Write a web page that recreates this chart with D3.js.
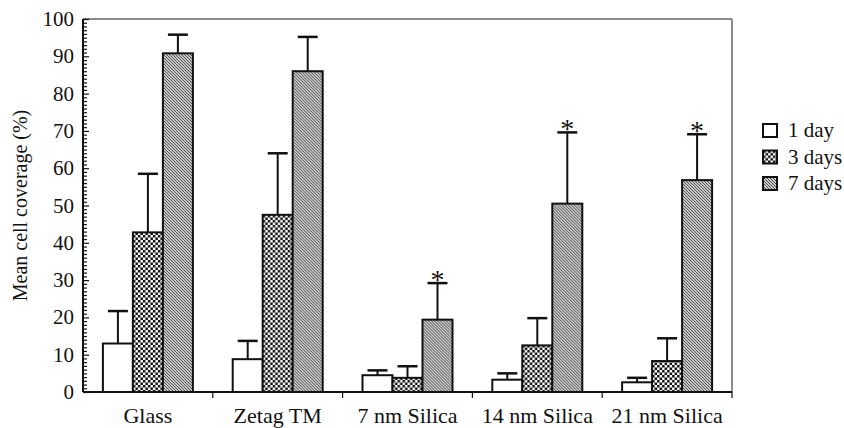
<!DOCTYPE html>
<html>
<head>
  <meta charset="utf-8">
  <title>Mean cell coverage</title>
  <style>
    body { margin: 0; background: #fff; }
    svg text { font-family: "Liberation Serif", Tinos, "Times New Roman", Times, "DejaVu Serif", serif; }
  </style>
</head>
<body>
  <script src="https://d3js.org/d3.v7.min.js"></script>
  <svg width="844" height="428"></svg>
  <script>
    // data
    var categories = ["Glass", "Zetag TM", "7 nm Silica", "14 nm Silica", "21 nm Silica"];
    var series = ["1 day", "3 days", "7 days"];
    var means = {
      "1 day":  [13.0, 8.8, 4.5, 3.3, 2.6],
      "3 days": [42.8, 47.5, 3.8, 12.5, 8.3],
      "7 days": [90.8, 86.0, 19.4, 50.5, 56.8]
    };
    var upper = {
      "1 day":  [21.7, 13.7, 5.8, 5.0, 3.8],
      "3 days": [58.5, 64.0, 6.9, 19.8, 14.4],
      "7 days": [95.8, 95.2, 29.2, 69.6, 69.1]
    };
    var starred = [false, false, true, true, true];  // on the 7 days bars
    var yTicks = d3.range(0, 101, 10);

    var serif = "'Liberation Serif', Tinos, 'Times New Roman', Times, 'DejaVu Serif', serif";

    var svg = d3.select("svg");
    var mLeft = 83, mRight = 732, mTop = 19, mBottom = 392;

    var defs = svg.append("defs");
    var chk = defs.append("pattern").attr("id", "checks")
        .attr("patternUnits", "userSpaceOnUse").attr("width", 5).attr("height", 5);
    chk.append("rect").attr("width", 5).attr("height", 5).attr("fill", "#fff");
    chk.append("rect").attr("width", 2.5).attr("height", 2.5).attr("fill", "#111");
    chk.append("rect").attr("x", 2.5).attr("y", 2.5).attr("width", 2.5).attr("height", 2.5).attr("fill", "#111");

    var hat = defs.append("pattern").attr("id", "hatch")
        .attr("patternUnits", "userSpaceOnUse").attr("width", 3).attr("height", 3);
    hat.append("rect").attr("width", 3).attr("height", 3).attr("fill", "#cfcfcf");
    hat.append("path").attr("d", "M0,0L3,3M-1,2L1,4M2,-1L4,1")
        .attr("stroke", "#333").attr("stroke-width", 0.9);

    var fills = { "1 day": "#fff", "3 days": "url(#checks)", "7 days": "url(#hatch)" };

    var x0 = d3.scaleBand().domain(categories).range([mLeft, mRight]);
    var barW = 30;
    var x1 = d3.scaleBand().domain(series).range([0, barW * 3]);
    var y = d3.scaleLinear().domain([0, 100]).range([mBottom, mTop]);

    // frame (top and right are light)
    svg.append("line").attr("x1", mLeft).attr("x2", mRight).attr("y1", mTop).attr("y2", mTop)
        .attr("stroke", "#666").attr("stroke-width", 1.5);
    svg.append("line").attr("x1", mRight).attr("x2", mRight).attr("y1", mTop).attr("y2", mBottom)
        .attr("stroke", "#666").attr("stroke-width", 1.5);

    // bars
    var groups = svg.append("g").selectAll("g")
        .data(categories)
        .join("g")
        .attr("transform", function(d) {
          return "translate(" + (x0(d) + (x0.bandwidth() - barW * 3) / 2) + ",0)";
        });

    series.forEach(function(s) {
      groups.append("line")
          .attr("x1", x1(s) + barW / 2).attr("x2", x1(s) + barW / 2)
          .attr("y1", function(d, i) { return y(means[s][i]); })
          .attr("y2", function(d, i) { return y(upper[s][i]); })
          .attr("stroke", "#111").attr("stroke-width", 2);
      groups.append("line")
          .attr("x1", x1(s) + barW / 2 - 10).attr("x2", x1(s) + barW / 2 + 10)
          .attr("y1", function(d, i) { return y(upper[s][i]); })
          .attr("y2", function(d, i) { return y(upper[s][i]); })
          .attr("stroke", "#111").attr("stroke-width", 2.5);
      groups.append("rect")
          .attr("x", x1(s))
          .attr("width", barW)
          .attr("y", function(d, i) { return y(means[s][i]); })
          .attr("height", function(d, i) { return y(0) - y(means[s][i]); })
          .attr("fill", fills[s])
          .attr("stroke", "#111").attr("stroke-width", 2);
    });

    groups.filter(function(d, i) { return starred[i]; })
        .append("text")
        .attr("x", x1("7 days") + barW / 2)
        .attr("y", function(d) { return y(upper["7 days"][categories.indexOf(d)]) + 6; })
        .attr("text-anchor", "middle")
        .attr("fill", "#111")
        .style("font-family", serif)
        .style("font-size", "28px")
        .text("*");

    // y axis
    var yAxis = svg.append("g").attr("transform", "translate(" + mLeft + ",0)");
    yAxis.call(d3.axisRight(y).tickValues(d3.range(0, 101, 1)).tickSize(4).tickFormat(""));
    yAxis.selectAll(".tick").filter(function(d) { return d % 10 === 0; })
        .select("line").attr("x2", 6);
    yAxis.select(".domain").remove();
    yAxis.selectAll(".tick line").attr("stroke", "#111").attr("stroke-width", 1.2);
    svg.append("line").attr("x1", mLeft).attr("x2", mLeft).attr("y1", mTop).attr("y2", mBottom)
        .attr("stroke", "#111").attr("stroke-width", 2);
    svg.append("g").selectAll("text")
        .data(yTicks)
        .join("text")
        .attr("x", mLeft - 9)
        .attr("y", function(d) { return y(d) + 7; })
        .attr("text-anchor", "end")
        .attr("fill", "#111")
        .style("font-family", serif)
        .style("font-size", "21px")
        .text(function(d) { return d; });

    // x axis
    svg.append("line").attr("x1", mLeft).attr("x2", mRight).attr("y1", mBottom).attr("y2", mBottom)
        .attr("stroke", "#111").attr("stroke-width", 2);
    svg.append("g").selectAll("line")
        .data(categories.slice(1).concat([null]))
        .join("line")
        .attr("x1", function(d) { return d ? x0(d) : mRight; })
        .attr("x2", function(d) { return d ? x0(d) : mRight; })
        .attr("y1", mBottom).attr("y2", mBottom + 6)
        .attr("stroke", "#111").attr("stroke-width", 1.2);
    svg.append("g").selectAll("text")
        .data(categories)
        .join("text")
        .attr("x", function(d) { return x0(d) + x0.bandwidth() / 2; })
        .attr("y", 423)
        .attr("text-anchor", "middle")
        .attr("fill", "#111")
        .style("font-family", serif)
        .style("font-size", "22px")
        .text(function(d) { return d; });

    svg.append("text")
        .attr("transform", "translate(27," + ((mTop + mBottom) / 2) + ") rotate(-90)")
        .attr("text-anchor", "middle")
        .attr("fill", "#111")
        .style("font-family", serif)
        .style("font-size", "20px")
        .text("Mean cell coverage (%)");

    // legend
    var leg = svg.append("g").selectAll("g")
        .data(series)
        .join("g")
        .attr("transform", function(d, i) { return "translate(763," + (124 + i * 26.5) + ")"; });
    leg.append("rect")
        .attr("width", 14).attr("height", 13)
        .attr("fill", function(d) { return fills[d]; })
        .attr("stroke", "#111").attr("stroke-width", 2);
    leg.append("text")
        .attr("x", 25).attr("y", 13)
        .attr("fill", "#111")
        .style("font-family", serif)
        .style("font-size", "21px")
        .text(function(d) { return d; });
  </script>
</body>
</html>
